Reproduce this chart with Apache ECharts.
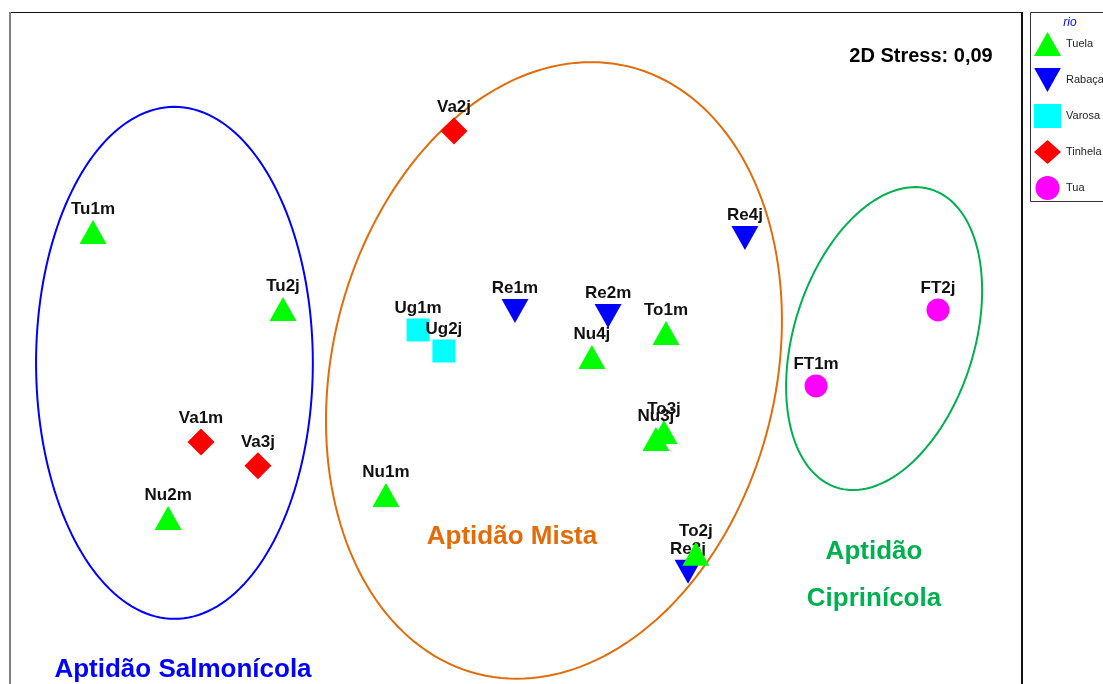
<!DOCTYPE html>
<html>
<head>
<meta charset="utf-8">
<script src="https://cdn.jsdelivr.net/npm/echarts@6/dist/echarts.min.js"></script>
<style>
  html, body { margin: 0; padding: 0; background: #fff; }
  #chart { width: 1103px; height: 684px; }
</style>
</head>
<body>
<div id="chart"></div>
<script>
// rios (legenda)
const rivers = ['Tuela', 'Rabaça', 'Varosa', 'Tinhela', 'Tua'];
const riverColors = ['#00FF00', '#0000FF', '#00FFFF', '#FF0000', '#FF00FF'];
const riverSymbols = ['triangle', 'triangle', 'rect', 'diamond', 'circle'];
const riverRotate = [0, 180, 0, 0, 0];
const riverSizes = [[27, 24], [27, 24], [23, 23], [27, 27], [23, 23]];

// locais (coordenadas NMDS)
const siteNames = ['Tu1m', 'Tu2j', 'Nu2m', 'Nu1m', 'Nu4j', 'To1m', 'To3j', 'Nu3j', 'To2j',
                   'Re1m', 'Re2m', 'Re4j', 'Re3j',
                   'Ug1m', 'Ug2j',
                   'Va1m', 'Va3j', 'Va2j',
                   'FT1m', 'FT2j'];
const siteRiver = [0, 0, 0, 0, 0, 0, 0, 0, 0,
                   1, 1, 1, 1,
                   2, 2,
                   3, 3, 3,
                   4, 4];
const siteX = [-1.672, -0.921, -1.375, -0.514, 0.300, 0.593, 0.585, 0.553, 0.711,
               -0.004, 0.364, 0.905, 0.680,
               -0.387, -0.285,
               -1.245, -1.020, -0.245,
               1.186, 1.668];
const siteY = [0.480, 0.176, -0.650, -0.559, -0.014, 0.081, -0.310, -0.338, -0.792,
               0.168, 0.148, 0.457, -0.863,
               0.093, 0.010,
               -0.350, -0.444, 0.880,
               -0.128, 0.172];

// elipses dos grupos: centro, raios e rotação (graus)
const groupNames = ['Aptidão Salmonícola', 'Aptidão Mista', 'Aptidão Ciprinícola'];
const groupColors = ['#0000FF', '#E36C0A', '#00B050'];
const ellipseCx = [-1.350, 0.150, 1.455];
const ellipseCy = [-0.037, -0.067, 0.059];
const ellipseRx = [0.547, 0.876, 0.356];
const ellipseRy = [1.012, 1.237, 0.618];
const ellipseRot = [0, -14, -17.6];

const chart = echarts.init(document.getElementById('chart'));

const scatterSeries = rivers.map((r, ri) => ({
  name: r,
  type: 'scatter',
  symbol: riverSymbols[ri],
  symbolRotate: riverRotate[ri],
  symbolSize: riverSizes[ri],
  itemStyle: { color: riverColors[ri], opacity: 1 },
  label: {
    show: true,
    position: 'top',
    distance: 2,
    formatter: '{b}',
    color: '#111',
    fontFamily: 'Arial, Liberation Sans, sans-serif',
    fontWeight: 'bold',
    fontSize: 17
  },
  z: ri === 0 ? 6 : 5,  // Tuela por cima (To2j sobre Re3j)
  data: siteNames
    .map((n, i) => ({ name: n, value: [siteX[i], siteY[i]], river: siteRiver[i] }))
    .filter(d => d.river === ri)
}));

const ellipseSeries = {
  type: 'custom',
  coordinateSystem: 'cartesian2d',
  silent: true,
  clip: false,
  z: 2,
  data: groupNames.map((g, i) => [ellipseCx[i], ellipseCy[i], ellipseRx[i], ellipseRy[i], ellipseRot[i], i]),
  renderItem: function (params, api) {
    const cx = api.value(0), cy = api.value(1);
    const rx = api.value(2), ry = api.value(3);
    const a = api.value(4) * Math.PI / 180;
    const idx = api.value(5);
    const pts = [];
    for (let k = 0; k <= 180; k++) {
      const t = k / 180 * Math.PI * 2;
      const ex = rx * Math.cos(t), ey = ry * Math.sin(t);
      const x = cx + ex * Math.cos(a) - ey * Math.sin(a);
      const y = cy + ex * Math.sin(a) + ey * Math.cos(a);
      pts.push(api.coord([x, y]));
    }
    return {
      type: 'polygon',
      shape: { points: pts },
      style: { fill: 'none', stroke: groupColors[idx], lineWidth: 2 }
    };
  }
};

const font = 'Arial, Liberation Sans, sans-serif';

const option = {
  animation: false,
  backgroundColor: '#fff',
  grid: { left: 10, top: 12, width: 1012, height: 683, show: false, outerBoundsMode: 'none' },
  xAxis: { type: 'value', min: -2, max: 2, show: false },
  yAxis: { type: 'value', min: -1.35, max: 1.35, show: false },
  legend: {
    data: rivers.map(r => r === 'Rabaça'
      ? { name: r, icon: 'path://M0,0 L2,0 L1,1.8 Z' }
      : r),
    orient: 'vertical',
    left: 1029,
    top: 27,
    itemWidth: 27,
    itemHeight: 24,
    itemGap: 12,
    padding: 5,
    textStyle: { fontSize: 11, color: '#222', fontFamily: font },
    selectedMode: false
  },
  graphic: [
    // moldura do gráfico
    { type: 'line', shape: { x1: 10, y1: 12.5, x2: 1022, y2: 12.5 }, style: { stroke: '#111', lineWidth: 1 } },
    { type: 'line', shape: { x1: 10, y1: 12, x2: 10, y2: 684 }, style: { stroke: '#808080', lineWidth: 2 } },
    { type: 'line', shape: { x1: 1022, y1: 12, x2: 1022, y2: 684 }, style: { stroke: '#111', lineWidth: 2 } },
    // caixa da legenda
    { type: 'rect', shape: { x: 1030.5, y: 12.5, width: 100, height: 189 }, style: { fill: 'none', stroke: '#333', lineWidth: 1 } },
    { type: 'text', x: 1070, y: 23, style: { text: 'rio', fill: '#0000FF', font: 'italic 12px ' + font, textAlign: 'center', textVerticalAlign: 'middle' } },
    // textos
    { type: 'text', x: 921, y: 56, z: 10, style: { text: '2D Stress: 0,09', fill: '#000', font: 'bold 20px ' + font, textAlign: 'center', textVerticalAlign: 'middle' } },
    { type: 'text', x: 183, y: 670, z: 10, style: { text: 'Aptidão Salmonícola', fill: '#0000FF', font: 'bold 26px ' + font, textAlign: 'center', textVerticalAlign: 'middle' } },
    { type: 'text', x: 512, y: 537, z: 10, style: { text: 'Aptidão Mista', fill: '#E36C0A', font: 'bold 26px ' + font, textAlign: 'center', textVerticalAlign: 'middle' } },
    { type: 'text', x: 874, y: 552, z: 10, style: { text: 'Aptidão', fill: '#00B050', font: 'bold 26px ' + font, textAlign: 'center', textVerticalAlign: 'middle' } },
    { type: 'text', x: 874, y: 599, z: 10, style: { text: 'Ciprinícola', fill: '#00B050', font: 'bold 26px ' + font, textAlign: 'center', textVerticalAlign: 'middle' } }
  ],
  series: [ellipseSeries].concat(scatterSeries)
};

chart.setOption(option);
</script>
</body>
</html>
